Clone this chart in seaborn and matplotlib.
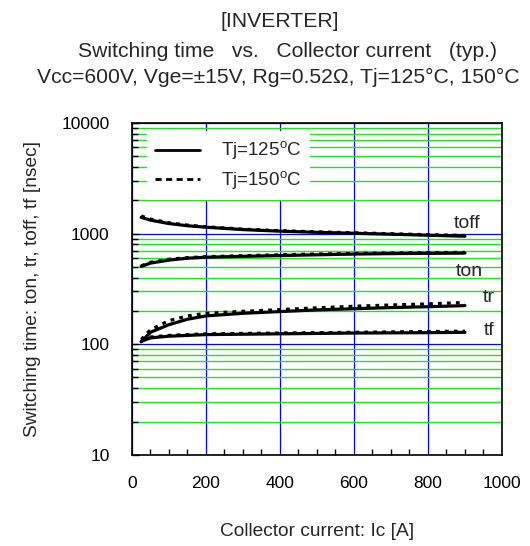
import numpy as np
import pandas as pd
import matplotlib
matplotlib.use("Agg")
import matplotlib.pyplot as plt
from matplotlib.lines import Line2D
from matplotlib.ticker import LogLocator, FixedLocator, NullFormatter, MultipleLocator
import seaborn as sns

# Collector current [A]
ic = [25, 50, 100, 150, 200, 300, 400, 500, 600, 700, 800, 900]

# Switching times [nsec] at Tj=125 C
toff_125 = [1400, 1320, 1230, 1175, 1140, 1085, 1050, 1025, 1005, 985, 965, 945]
ton_125 = [505, 540, 575, 598, 610, 622, 632, 642, 652, 658, 662, 665]
tr_125 = [105, 128, 150, 168, 180, 190, 197, 204, 209, 214, 218, 223]
tf_125 = [106, 114, 118, 120, 122, 123, 124, 125, 126, 126.5, 127, 128]

# Switching times [nsec] at Tj=150 C
toff_150 = [1440, 1350, 1250, 1190, 1150, 1095, 1060, 1035, 1015, 995, 975, 960]
ton_150 = [510, 550, 585, 605, 617, 630, 642, 652, 660, 667, 672, 675]
tr_150 = [110, 135, 163, 180, 190, 198, 205, 213, 220, 226, 231, 238]
tf_150 = [110, 116, 120, 122, 124, 125, 126, 127, 128, 129, 130, 131]

x_ticks = [0, 200, 400, 600, 800, 1000]
y_ticks = [10, 100, 1000, 10000]

sns.set_theme(style="white")
plt.rcParams["font.family"] = ["Liberation Sans", "DejaVu Sans"]
plt.rcParams["mathtext.fontset"] = "custom"
plt.rcParams["mathtext.rm"] = "Liberation Sans"

rows = []
for tj, series in (("125", {"toff": toff_125, "ton": ton_125, "tr": tr_125, "tf": tf_125}),
                   ("150", {"toff": toff_150, "ton": ton_150, "tr": tr_150, "tf": tf_150})):
    for kind, vals in series.items():
        for x, v in zip(ic, vals):
            rows.append({"Ic": x, "t": v, "Tj": tj, "kind": kind})
df = pd.DataFrame(rows)

fig = plt.figure(figsize=(5.30, 5.46), dpi=100)
ax = fig.add_axes([0.249, 0.167, 0.698, 0.608])

ax.set_yscale("log")
ax.set_xlim(0, 1000)
ax.set_ylim(10, 10000)

# grid: green minor horizontals, blue majors
ax.yaxis.set_minor_locator(LogLocator(base=10, subs=np.arange(2, 10)))
ax.yaxis.set_minor_formatter(NullFormatter())
ax.yaxis.set_major_locator(FixedLocator(y_ticks))
ax.xaxis.set_major_locator(FixedLocator(x_ticks))
ax.xaxis.set_minor_locator(MultipleLocator(50))
ax.grid(False)
ax.grid(which="minor", axis="y", color="#22e022", linewidth=1.0)
ax.grid(which="major", axis="both", color="#0000ff", linewidth=0.9)
ax.set_axisbelow(True)

sns.lineplot(data=df, x="Ic", y="t", style="Tj", units="kind", estimator=None,
             style_order=["125", "150"], dashes={"125": "", "150": (1.2, 1.6)},
             color="black", linewidth=2.3, legend=False, ax=ax, zorder=3)

ax.set_yticklabels([str(v) for v in y_ticks])
ax.set_xticklabels([str(v) for v in x_ticks])
ax.tick_params(axis="both", which="both", direction="in", labelsize=12.5,
               left=True, bottom=True, colors="black")
ax.tick_params(axis="y", which="major", length=5, width=1)
ax.tick_params(axis="y", which="minor", length=4, width=1)
ax.tick_params(axis="x", which="major", length=0)
ax.tick_params(axis="x", which="minor", length=4, width=1)
ax.tick_params(axis="y", pad=16)
ax.tick_params(axis="x", pad=15)
for s in ax.spines.values():
    s.set_color("black")
    s.set_linewidth(1.2)

ax.set_xlabel("Collector current: Ic [A]", fontsize=13.8, labelpad=23)
ax.set_ylabel("Switching time: ton, tr, toff, tf [nsec]", fontsize=13.8, labelpad=15)

# curve labels
for txt, x, y in (("toff", 905, 1230), ("ton", 913, 454), ("tr", 965, 262), ("tf", 965, 134)):
    ax.text(x, y, txt, fontsize=14, ha="center", va="center", zorder=4)

handles = [Line2D([], [], color="black", linewidth=2.0, linestyle="-"),
           Line2D([], [], color="black", linewidth=2.0, linestyle=(0, (2.2, 1.6)))]
leg = ax.legend(handles, ["Tj=125$^{\\mathrm{o}}$C", "Tj=150$^{\\mathrm{o}}$C"],
                loc="upper left", bbox_to_anchor=(0.04, 0.975), frameon=True,
                fancybox=False, framealpha=1.0, edgecolor="white", fontsize=13.5,
                handlelength=2.4, handletextpad=1.1, borderpad=0.45, labelspacing=0.35,
                borderaxespad=0.0)
leg.get_frame().set_linewidth(0)

fig.text(0.527, 0.9505, "[INVERTER]", fontsize=15.2, ha="center", va="baseline")
fig.text(0.543, 0.8956, "Switching time   vs.   Collector current   (typ.)", fontsize=15.2,
         ha="center", va="baseline")
fig.text(0.525, 0.848, "Vcc=600V, Vge=\u00b115V, Rg=0.52\u03a9, Tj=125\u00b0C, 150\u00b0C",
         fontsize=15.2, ha="center", va="baseline")

fig.savefig("out.png", dpi=100)
